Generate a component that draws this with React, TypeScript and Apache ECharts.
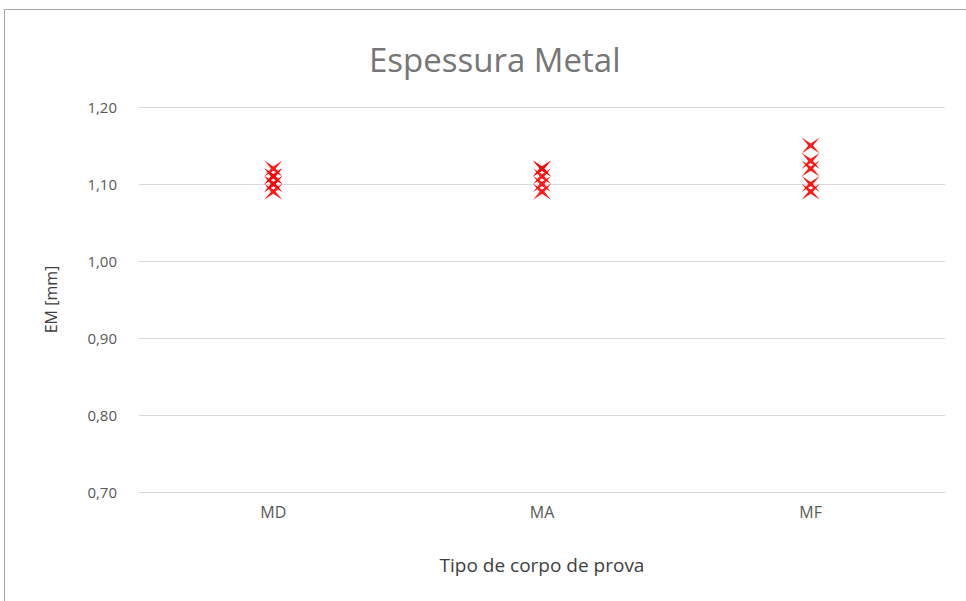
import React, { useEffect, useRef } from "react";
import * as echarts from "echarts";

const categories = ["MD", "MA", "MF"];
const mdValues = [1.09, 1.1, 1.1, 1.11, 1.11, 1.12];
const maValues = [1.09, 1.1, 1.11, 1.12, 1.12];
const mfValues = [1.09, 1.1, 1.12, 1.13, 1.15];
const yTicks = [0.7, 0.8, 0.9, 1.0, 1.1, 1.2];

const starPath = "path://M0,0 L5,3.7 L10,0 L6.3,5 L10,10 L5,6.3 L0,10 L3.7,5 Z";

export default function App() {
  const ref = useRef<HTMLDivElement>(null);
  useEffect(() => {
    const chart = echarts.init(ref.current!, undefined, { renderer: "svg" });
    const groups = [mdValues, maValues, mfValues];
    const data: [string, number][] = [];
    groups.forEach((vals, i) => vals.forEach((v) => data.push([categories[i], v])));
    const font = "'Open Sans', 'Noto Sans', sans-serif";
    chart.setOption({
      animation: false,
      backgroundColor: "#ffffff",
      textStyle: { fontFamily: font },
      title: {
        text: "Espessura Metal",
        left: 364,
        top: 38,
        textStyle: { fontSize: 33, fontWeight: "normal", color: "#767676", fontFamily: font },
      },
      graphic: [
        {
          type: "rect",
          shape: { x: 4.5, y: 9.5, width: 1000, height: 700 },
          style: { fill: "none", stroke: "#a6a6a6", lineWidth: 1 },
          silent: true,
          z: 100,
        },
      ],
      grid: { left: 139, right: 21, top: 107, bottom: 109, containLabel: false },
      xAxis: {
        type: "category",
        data: categories,
        name: "Tipo de corpo de prova",
        nameLocation: "middle",
        nameGap: 63,
        nameTextStyle: { fontSize: 19, color: "#404040", fontFamily: font },
        axisLine: { show: true, lineStyle: { color: "#d9d9d9" } },
        axisTick: { show: false },
        axisLabel: { fontSize: 16, color: "#595959", margin: 12, fontFamily: font },
        splitLine: { show: false },
      },
      yAxis: {
        type: "value",
        min: yTicks[0],
        max: yTicks[yTicks.length - 1],
        interval: 0.1,
        name: "EM [mm]",
        nameLocation: "middle",
        nameRotate: 90,
        nameGap: 80,
        nameTextStyle: { fontSize: 16, color: "#404040", fontFamily: font },
        axisLine: { show: false },
        axisTick: { show: false },
        axisLabel: {
          fontSize: 15,
          color: "#595959",
          margin: 22,
          fontFamily: font,
          formatter: (v: number) => v.toFixed(2).replace(".", ","),
        },
        splitLine: { show: true, lineStyle: { color: "#d9d9d9", width: 1 } },
      },
      series: [
        {
          type: "scatter",
          data,
          symbol: starPath,
          symbolSize: [18, 16],
          itemStyle: { color: "#ff0000", opacity: 0.9 },
        },
      ],
    });
    return () => chart.dispose();
  }, []);
  return (
    <div
      ref={ref}
      style={{ position: "fixed", left: 0, top: 0, width: 966, height: 601 }}
    />
  );
}
